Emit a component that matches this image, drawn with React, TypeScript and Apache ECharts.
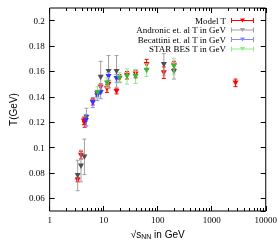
import React, { useEffect, useRef } from "react";
import * as echarts from "echarts";

// ---- data ----
const modelX = [3.3, 3.8, 4.3, 4.45, 6.3, 7.6, 8.8, 11.5, 12.3, 17.3, 19.6, 27, 39, 62.4, 130, 200, 2760];
const modelT = [0.0745, 0.094, 0.121, 0.119, 0.136, 0.1425, 0.1477, 0.1465, 0.15, 0.1443, 0.1545, 0.157, 0.158, 0.1655, 0.159, 0.165, 0.151];
const modelErr = [0.0015, 0.003, 0.003, 0.003, 0.0025, 0.0025, 0.0025, 0.003, 0.003, 0.002, 0.003, 0.003, 0.003, 0.004, 0.0045, 0.003, 0.003];

const andronicX = [3.3, 3.8, 4.4, 4.8, 8.8, 12.3, 17.3, 130, 200];
const andronicT = [0.078, 0.0855, 0.0927, 0.124, 0.1555, 0.16, 0.16, 0.1655, 0.16];
const andronicErr = [0.012, 0.0125, 0.014, 0.007, 0.0125, 0.0125, 0.0125, 0.0085, 0.006];

const becattiniX = [4.7, 6.3, 7.6, 8.8, 12.3, 17.3];
const becattiniT = [0.1215, 0.1355, 0.141, 0.1435, 0.156, 0.1545];
const becattiniErr = [0.0045, 0.004, 0.004, 0.005, 0.003, 0.003];

const starX = [7.7, 11.5, 19.6, 27, 39, 62.4, 200];
const starT = [0.1435, 0.151, 0.155, 0.156, 0.156, 0.161, 0.164];
const starErr = [0.0045, 0.004, 0.004, 0.006, 0.0055, 0.005, 0.006];

const seriesNames = ["Model T", "Andronic et. al T in GeV", "Becattini et. al T in GeV", "STAR BES T in GeV"];
const barColors = ["#ff0000", "#a0a0a0", "#8888ff", "#88ee88"];
const markColors = ["#ff0000", "#505050", "#3333ff", "#33bb33"];

const X_MIN = 1;
const X_MAX = 10000;
const Y_MIN = 0.05;
const Y_MAX = 0.21;

const SERIF = "Liberation Serif";
const SANS = "Liberation Sans";

const legendIcon =
  "path://M0,1L1,1L1,6L0,6Z M22,1L23,1L23,6L22,6Z M0,3L23,3L23,4L0,4Z M9,1.5L14,1.5L11.5,5.5Z";

function zip(xs: number[], ys: number[], es: number[]) {
  return xs.map((x, i) => [x, ys[i], es[i]]);
}

function makeRender(barColor: string, markColor: string) {
  return (params: any, api: any) => {
    const x = api.value(0);
    const y = api.value(1);
    const e = api.value(2);
    const c = api.coord([x, y]);
    const top = api.coord([x, y + e]);
    const bot = api.coord([x, y - e]);
    const cap = 2;
    const s = 3;
    return {
      type: "group",
      children: [
        { type: "line", shape: { x1: c[0], y1: top[1], x2: c[0], y2: bot[1] }, style: { stroke: barColor, lineWidth: 1 } },
        { type: "line", shape: { x1: c[0] - cap, y1: top[1], x2: c[0] + cap, y2: top[1] }, style: { stroke: barColor, lineWidth: 1 } },
        { type: "line", shape: { x1: c[0] - cap, y1: bot[1], x2: c[0] + cap, y2: bot[1] }, style: { stroke: barColor, lineWidth: 1 } },
        {
          type: "polygon",
          shape: { points: [[c[0] - s, c[1] - s * 0.8], [c[0] + s, c[1] - s * 0.8], [c[0], c[1] + s]] },
          style: { fill: markColor },
        },
      ],
    };
  };
}

export default function App() {
  const ref = useRef<HTMLDivElement>(null);
  useEffect(() => {
    if (!ref.current) return;
    const chart = echarts.init(ref.current, undefined, { renderer: "svg" });
    const datasets = [
      zip(modelX, modelT, modelErr),
      zip(andronicX, andronicT, andronicErr),
      zip(becattiniX, becattiniT, becattiniErr),
      zip(starX, starT, starErr),
    ];
    const xCommon = {
      type: "log" as const,
      logBase: 10,
      min: X_MIN,
      max: X_MAX,
      splitLine: { show: false },
      axisLine: { show: false },
      axisTick: { show: true, inside: true, length: 5, lineStyle: { color: "#000" } },
      minorTick: { show: true, splitNumber: 9, length: 3, lineStyle: { color: "#000" } },
    };
    const yCommon = {
      type: "value" as const,
      min: Y_MIN,
      max: Y_MAX,
      splitNumber: 8,
      splitLine: { show: false },
      axisLine: { show: false },
      axisTick: { show: true, inside: true, length: 5, lineStyle: { color: "#000" } },
    };
    chart.setOption({
      animation: false,
      grid: {
        left: 40,
        top: 8,
        right: 13,
        bottom: 31,
        show: true,
        borderColor: "#000",
        borderWidth: 1,
        backgroundColor: "transparent",
      },
      legend: {
        orient: "vertical",
        right: 21,
        top: 11,
        align: "right",
        itemWidth: 23,
        itemHeight: 7,
        itemGap: 0.5,
        textStyle: { fontFamily: SERIF, fontSize: 9, color: "#000", lineHeight: 7.5 },
        data: seriesNames.map((n) => ({ name: n, icon: legendIcon })),
      },
      xAxis: [
        {
          ...xCommon,
          position: "bottom",
          name: "√s{sub|NN} in GeV",
          nameLocation: "middle",
          nameGap: 17,
          nameTextStyle: {
            fontFamily: SANS,
            fontSize: 10,
            color: "#000",
            rich: { sub: { fontFamily: SANS, fontSize: 7, color: "#000", verticalAlign: "bottom", padding: [5, 0, 0, 0] } },
          },
          axisLabel: {
            show: true,
            margin: 4,
            fontFamily: SERIF,
            fontSize: 9,
            color: "#000",
            formatter: (v: number) => String(Math.round(v)),
          },
        },
        {
          ...xCommon,
          position: "top",
          axisLabel: { show: false },
        },
      ],
      yAxis: [
        {
          ...yCommon,
          position: "left",
          name: "T(GeV)",
          nameLocation: "middle",
          nameGap: 27,
          nameTextStyle: { fontFamily: SANS, fontSize: 10, color: "#000" },
          axisLabel: {
            show: true,
            margin: 5,
            fontFamily: SERIF,
            fontSize: 9,
            color: "#000",
            showMinLabel: false,
            showMaxLabel: false,
            formatter: (v: number) => String(+v.toFixed(2)),
          },
        },
        {
          ...yCommon,
          position: "right",
          axisLabel: { show: false },
        },
      ],
      series: datasets.map((d, i) => ({
        type: "custom",
        name: seriesNames[i],
        xAxisIndex: 0,
        yAxisIndex: 0,
        itemStyle: { color: barColors[i] },
        encode: { x: 0, y: 1 },
        data: d,
        renderItem: makeRender(barColors[i], markColors[i]),
        clip: true,
      })),
    });
    return () => chart.dispose();
  }, []);
  return <div ref={ref} style={{ position: "fixed", left: 0, top: 0, width: 280, height: 245 }} />;
}
